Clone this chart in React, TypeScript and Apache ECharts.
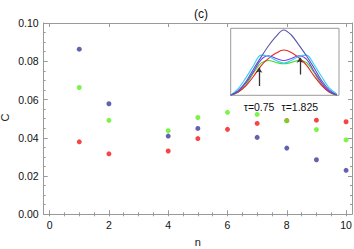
import React, { useEffect, useRef } from "react";
import * as echarts from "echarts";

const nValues = [1, 2, 4, 5, 6, 7, 8, 9, 10];
const blueC = [0.0863, 0.0578, 0.0409, 0.0449, null, 0.0402, 0.0346, 0.0285, 0.023];
const redC = [0.0379, 0.0316, 0.0331, 0.0396, 0.0444, 0.0475, 0.049, 0.0492, 0.0484];
const greenC = [0.0663, 0.0491, 0.0437, 0.0506, 0.0533, 0.0522, 0.0488, 0.0443, 0.0389];

const xMajor = [0, 2, 4, 6, 8, 10];
const xMinor = [0, 0.5, 1, 1.5, 2, 2.5, 3, 3.5, 4, 4.5, 5, 5.5, 6, 6.5, 7, 7.5, 8, 8.5, 9, 9.5, 10];

// inset curves
const tau = [0, 0.2, 0.4, 0.6, 0.8, 1.0, 1.2, 1.4, 1.6, 1.8, 2.0, 2.2, 2.4, 2.6, 2.8];
const insetBlue = [0, 0.07, 0.2, 0.39, 0.57, 0.74, 0.88, 0.975, 0.9, 0.75, 0.59, 0.41, 0.22, 0.08, 0.005];
const insetRed = [0, 0.05, 0.14, 0.28, 0.44, 0.55, 0.63, 0.676, 0.64, 0.56, 0.45, 0.29, 0.15, 0.05, 0.003];
const insetGreen = [0, 0.05, 0.15, 0.33, 0.48, 0.52, 0.49, 0.47, 0.49, 0.52, 0.49, 0.34, 0.16, 0.05, 0.003];
const insetPurple = [0, 0.06, 0.18, 0.35, 0.53, 0.59, 0.55, 0.52, 0.55, 0.59, 0.54, 0.36, 0.19, 0.06, 0.004];
const insetCyan = [0, 0.1, 0.26, 0.44, 0.6, 0.58, 0.52, 0.48, 0.52, 0.58, 0.6, 0.46, 0.28, 0.11, 0.02];
const arrowTaus = [0.75, 1.825];
const arrowFrom = [0.14, 0.31];
const arrowTo = [0.41, 0.56];

const FONT = "Liberation Sans";
const AXIS_COLOR = "#999";

export default function App() {
  const ref = useRef<HTMLDivElement>(null);
  useEffect(() => {
    if (!ref.current) return;
    const chart = echarts.init(ref.current, undefined, { renderer: "svg" });
    const pair = (xs: number[], ys: (number | null)[]) =>
      xs.map((x, i) => [x, ys[i]]).filter((p) => p[1] !== null);

    const xBase = {
      type: "value",
      min: -0.2,
      max: 10.2,
      gridIndex: 0,
      splitLine: { show: false },
      axisLine: { show: true, onZero: false, lineStyle: { color: AXIS_COLOR } },
    };
    const yBase = {
      type: "value",
      min: 0,
      max: 0.1,
      interval: 0.02,
      gridIndex: 0,
      splitLine: { show: false },
      axisLine: { show: true, onZero: false, lineStyle: { color: AXIS_COLOR } },
      axisTick: { show: true, inside: true, length: 4, lineStyle: { color: AXIS_COLOR } },
      minorTick: { show: true, splitNumber: 4, length: 2, lineStyle: { color: AXIS_COLOR } },
    };

    const option: any = {
      animation: false,
      title: {
        text: "(c)",
        left: 196,
        top: 3,
        textAlign: "center",
        textStyle: { fontFamily: FONT, fontSize: 12, fontWeight: "normal", color: "#111" },
      },
      graphic: [
        {
          type: "text",
          x: 5,
          y: 117.5,
          rotation: Math.PI / 2,
          style: {
            text: "C",
            fontFamily: FONT,
            fontSize: 11,
            fill: "#222",
            align: "center",
            verticalAlign: "middle",
          },
        },
      ],
      grid: [
        { left: 43.7, top: 23, right: 2, bottom: 34.7, show: false, outerBoundsMode: "none" },
        {
          left: 230.7,
          top: 28.3,
          width: 108.3,
          height: 67,
          show: true,
          backgroundColor: "#fff",
          borderColor: "#999",
          borderWidth: 1,
          z: 10,
          outerBoundsMode: "none",
        },
      ],
      xAxis: [
        {
          ...xBase,
          position: "bottom",
          name: "n",
          nameLocation: "middle",
          nameGap: 22,
          nameTextStyle: { fontFamily: FONT, fontSize: 11, color: "#222" },
          axisTick: { show: true, inside: true, length: 4, customValues: xMajor, lineStyle: { color: AXIS_COLOR } },
          axisLabel: { customValues: xMajor, fontFamily: FONT, fontSize: 10.5, color: "#111", margin: 5 },
        },
        {
          ...xBase,
          position: "bottom",
          axisLine: { show: false },
          axisTick: { show: true, inside: true, length: 2, customValues: xMinor, lineStyle: { color: AXIS_COLOR } },
          axisLabel: { show: false },
        },
        {
          ...xBase,
          position: "top",
          axisTick: { show: true, inside: true, length: 4, customValues: xMajor, lineStyle: { color: AXIS_COLOR } },
          axisLabel: { show: false },
        },
        {
          ...xBase,
          position: "top",
          axisLine: { show: false },
          axisTick: { show: true, inside: true, length: 2, customValues: xMinor, lineStyle: { color: AXIS_COLOR } },
          axisLabel: { show: false },
        },
        {
          type: "value",
          gridIndex: 1,
          min: 0,
          max: 2.86,
          splitLine: { show: false },
          axisLine: { show: false },
          axisTick: { show: true, inside: true, length: 3, customValues: arrowTaus, lineStyle: { color: "#999" } },
          axisLabel: {
            customValues: arrowTaus,
            formatter: (v: number) => "τ=" + v,
            fontFamily: FONT,
            fontSize: 10.5,
            color: "#111",
            margin: 6,
          },
        },
      ],
      yAxis: [
        {
          ...yBase,
          position: "left",
          axisLabel: {
            fontFamily: FONT,
            fontSize: 10.5,
            color: "#111",
            margin: 5,
            formatter: (v: number) => v.toFixed(2),
          },
        },
        {
          ...yBase,
          position: "right",
          axisLabel: { show: false },
        },
        {
          type: "value",
          gridIndex: 1,
          min: 0,
          max: 1,
          show: false,
        },
      ],
      series: [
        {
          type: "scatter",
          xAxisIndex: 0,
          yAxisIndex: 0,
          data: pair(nValues, blueC),
          symbolSize: 5,
          itemStyle: { color: "#3b3b98" },
        },
        {
          type: "scatter",
          xAxisIndex: 0,
          yAxisIndex: 0,
          data: pair(nValues, redC),
          symbolSize: 5,
          itemStyle: { color: "#f41616" },
        },
        {
          type: "scatter",
          xAxisIndex: 0,
          yAxisIndex: 0,
          data: pair(nValues, greenC),
          symbolSize: 5,
          itemStyle: { color: "#5cf01c" },
        },
        ...[
          { d: insetGreen, c: "#44dd22" },
          { d: insetRed, c: "#ee2222" },
          { d: insetPurple, c: "#7a3cf0" },
          { d: insetCyan, c: "#33ccff" },
          { d: insetBlue, c: "#5555aa" },
        ].map((s) => ({
          type: "line",
          xAxisIndex: 4,
          yAxisIndex: 2,
          data: pair(tau, s.d),
          smooth: 0.35,
          symbol: "none",
          z: 11,
          lineStyle: { color: s.c, width: 1.1 },
        })),
        {
          type: "lines",
          coordinateSystem: "cartesian2d",
          xAxisIndex: 4,
          yAxisIndex: 2,
          z: 12,
          symbol: ["none", "arrow"],
          symbolSize: 5,
          lineStyle: { color: "#333", width: 1.3, opacity: 1 },
          data: arrowTaus.map((t, i) => ({ coords: [[t, arrowFrom[i]], [t, arrowTo[i]]] })),
        },
      ],
    };
    chart.setOption(option);
    return () => chart.dispose();
  }, []);
  return (
    <div
      ref={ref}
      style={{ position: "fixed", left: 0, top: 0, width: 354, height: 249, background: "#fff" }}
    />
  );
}
